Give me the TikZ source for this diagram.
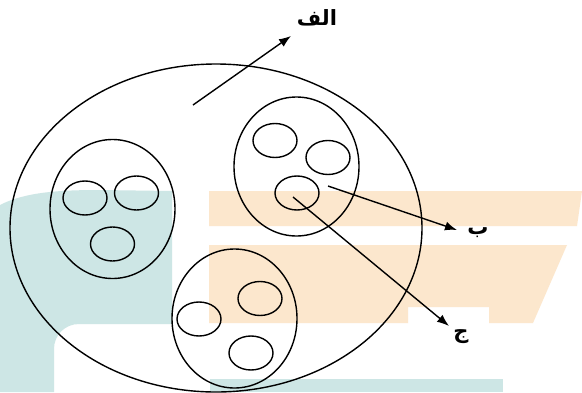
\documentclass[tikz,border=0pt]{standalone}
\usepackage{fontspec}
\usetikzlibrary{shapes.geometric,arrows.meta}
\TeXXeTstate=1
\newfontfamily\arabicfont[Script=Arabic]{DejaVu Sans}
\definecolor{tealbg}{RGB}{205,230,229}
\definecolor{orangebg}{RGB}{252,231,205}
\tikzset{
  setell/.style={ellipse,draw,line width=1.4pt,inner sep=0pt},
  bigset/.style={setell,minimum width=125pt,minimum height=139pt},
  elem/.style={setell,minimum width=44pt,minimum height=34pt},
  lab/.style={font=\arabicfont\bfseries\fontsize{21}{24}\selectfont,inner sep=0pt},
  arr/.style={line width=1.4pt,-{Latex[length=12pt,width=9pt]}}
}
\begin{document}
\begin{tikzpicture}[x=1pt,y=-1pt]
\useasboundingbox (0,0) rectangle (582,392);
\fill[white] (0,0) rectangle (582,392);
% background watermark
\fill[tealbg] (0,205) .. controls (25,192) and (60,190) .. (100,190) -- (172,191) -- (172,324) -- (79,324) .. controls (65,324) and (54,335) .. (54,349) -- (54,392) -- (0,392) -- cycle;
\fill[tealbg] (210,379) rectangle (503,392);
\fill[orangebg] (209,191) -- (582,191) -- (577,226) -- (209,226) -- cycle;
\fill[orangebg] (209,245) -- (567,245) -- (533,323) -- (489,323) -- (489,307) -- (408,307) -- (408,323) -- (209,323) -- cycle;
% universal set
\node[setell,minimum width=412pt,minimum height=328pt] (U) at (216,228) {};
% left set
\node[bigset] (L) at (112.5,209) {};
\node[elem] (L1) at (85,198) {};
\node[elem] (L2) at (136.5,193) {};
\node[elem] (L3) at (112.5,244) {};
% right set
\node[bigset] (R) at (296.5,166.5) {};
\node[elem] (R1) at (275,140.5) {};
\node[elem] (R2) at (328,157.5) {};
\node[elem] (R3) at (297,193) {};
% bottom set
\node[bigset] (B) at (234.5,318.5) {};
\node[elem] (B1) at (199,319) {};
\node[elem] (B2) at (260,298.5) {};
\node[elem] (B3) at (251,353) {};
% labels
\node[lab] (la) at (317,18) {\beginR الف\endR};
\node[lab] (lb) at (478,233) {\beginR ب\endR};
\node[lab] (lc) at (461,337) {\beginR ج\endR};
% arrow points
\coordinate (sa) at (193,105);
\coordinate (ta) at (291,36);
\coordinate (sb) at (328,186);
\coordinate (tb) at (457,230);
\coordinate (sc) at (293,197);
\coordinate (tc) at (449,326);
\draw[arr] (sa) -- (ta);
\draw[arr] (sb) -- (tb);
\draw[arr] (sc) -- (tc);
\end{tikzpicture}
\end{document}
